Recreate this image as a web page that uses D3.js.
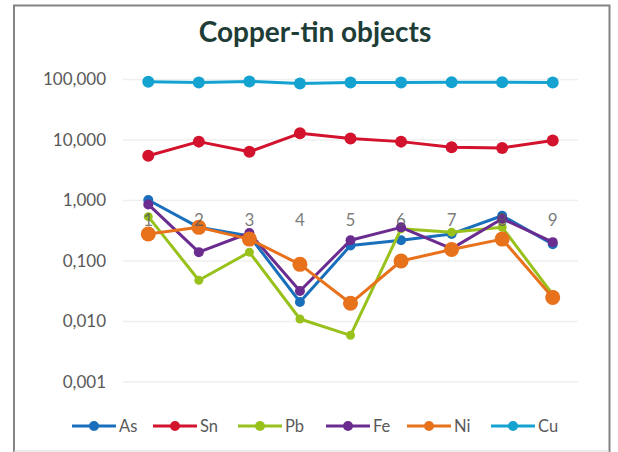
<!DOCTYPE html>
<html>
<head>
<meta charset="utf-8">
<script src="https://cdn.jsdelivr.net/npm/d3@7"></script>
<style>
  body { margin: 0; background: #fff; }
  svg { display: block; }
</style>
</head>
<body>
<svg id="chart" width="618" height="452"></svg>
<script>
const categories = ["1", "2", "3", "4", "5", "6", "7", "8", "9"];
const seriesNames = ["As", "Sn", "Pb", "Fe", "Ni", "Cu"];
const asValues = [1.02, 0.36, 0.26, 0.021, 0.18, 0.22, 0.28, 0.56, 0.19];
const snValues = [5.5, 9.4, 6.4, 12.9, 10.6, 9.4, 7.6, 7.4, 9.8];
const pbValues = [0.54, 0.048, 0.14, 0.011, 0.0059, 0.34, 0.30, 0.36, 0.028];
const feValues = [0.86, 0.14, 0.29, 0.032, 0.22, 0.36, 0.16, 0.50, 0.205];
const niValues = [0.28, 0.36, 0.23, 0.088, 0.020, 0.10, 0.155, 0.23, 0.025];
const cuValues = [92, 89, 93, 86, 89, 89, 90, 90, 89];
const yTicks = [100, 10, 1, 0.1, 0.01, 0.001];
const yTickLabels = ["100,000", "10,000", "1,000", "0,100", "0,010", "0,001"];
const colors = ["#1a6fbc", "#d3122d", "#98c11c", "#6b2c90", "#e8711c", "#14a3d1"];
const radii = [5, 6, 4.5, 5, 7.5, 6];

const series = [asValues, snValues, pbValues, feValues, niValues, cuValues].map((v, i) => ({
  name: seriesNames[i], values: v, color: colors[i], r: radii[i]
}));

const svg = d3.select("#chart");
const font = "Lato, 'Open Sans', sans-serif";

// frame
svg.append("path")
  .attr("d", "M14,452 V5.5 H609.5 V452")
  .attr("fill", "none").attr("stroke", "#848484").attr("stroke-width", 2);
svg.append("line").attr("x1", 14).attr("x2", 609).attr("y1", 451).attr("y2", 451)
  .attr("stroke", "#d8d8d8").attr("stroke-width", 1);

// title
svg.append("text").attr("x", 315).attr("y", 42).attr("text-anchor", "middle")
  .attr("font-family", font).attr("font-weight", "bold").attr("font-size", 28)
  .attr("fill", "#1d3d36").text("Copper-tin objects");

const x = d3.scaleBand().domain(categories).range([123, 578]);
const y = d3.scaleLog().domain([0.001, 100]).range([382, 79.5]);
const cx = d => x(d) + x.bandwidth() / 2;

// gridlines
svg.append("g").selectAll("line").data(yTicks).join("line")
  .attr("x1", 123).attr("x2", 578)
  .attr("y1", d => y(d)).attr("y2", d => y(d))
  .attr("stroke", "#efefef").attr("stroke-width", 1.5);

// y labels
const yAxis = d3.axisLeft(y).tickValues(yTicks)
  .tickFormat((d, i) => yTickLabels[i]).tickSize(0).tickPadding(0);
const gy = svg.append("g").attr("transform", "translate(106,0)").call(yAxis);
gy.select(".domain").remove();
gy.selectAll("text").attr("font-family", font).attr("font-size", 17).attr("fill", "#595959");

// series
const line = d3.line().x((d, i) => cx(categories[i])).y(d => y(d));
const gs = svg.append("g");
series.forEach(s => {
  const g = gs.append("g");
  g.append("path").attr("d", line(s.values)).attr("fill", "none")
    .attr("stroke", s.color).attr("stroke-width", 3).attr("stroke-linejoin", "round");
  g.selectAll("circle").data(s.values).join("circle")
    .attr("cx", (d, i) => cx(categories[i])).attr("cy", d => y(d))
    .attr("r", s.r).attr("fill", s.color);
});

// category axis crossing at 1
const xAxis = d3.axisBottom(x).tickSize(0).tickPadding(0);
const gx = svg.append("g").attr("transform", `translate(0,${y(1) + 13})`).call(xAxis);
gx.select(".domain").remove();
gx.selectAll("text").attr("font-family", font).attr("font-size", 17)
  .attr("fill", "#595959").attr("fill-opacity", 0.8);

// legend
const legendX = [72, 153, 238, 326, 407, 491];
const lg = svg.append("g");
series.forEach((s, i) => {
  const g = lg.append("g").attr("transform", `translate(${legendX[i]},426)`);
  g.append("line").attr("x1", 0).attr("x2", 44).attr("stroke", s.color).attr("stroke-width", 3);
  g.append("circle").attr("cx", 22).attr("r", 5).attr("fill", s.color);
  g.append("text").attr("x", 47).attr("y", 6).attr("font-family", font).attr("font-size", 16.5)
    .attr("fill", "#595959").text(s.name);
});
</script>
</body>
</html>
